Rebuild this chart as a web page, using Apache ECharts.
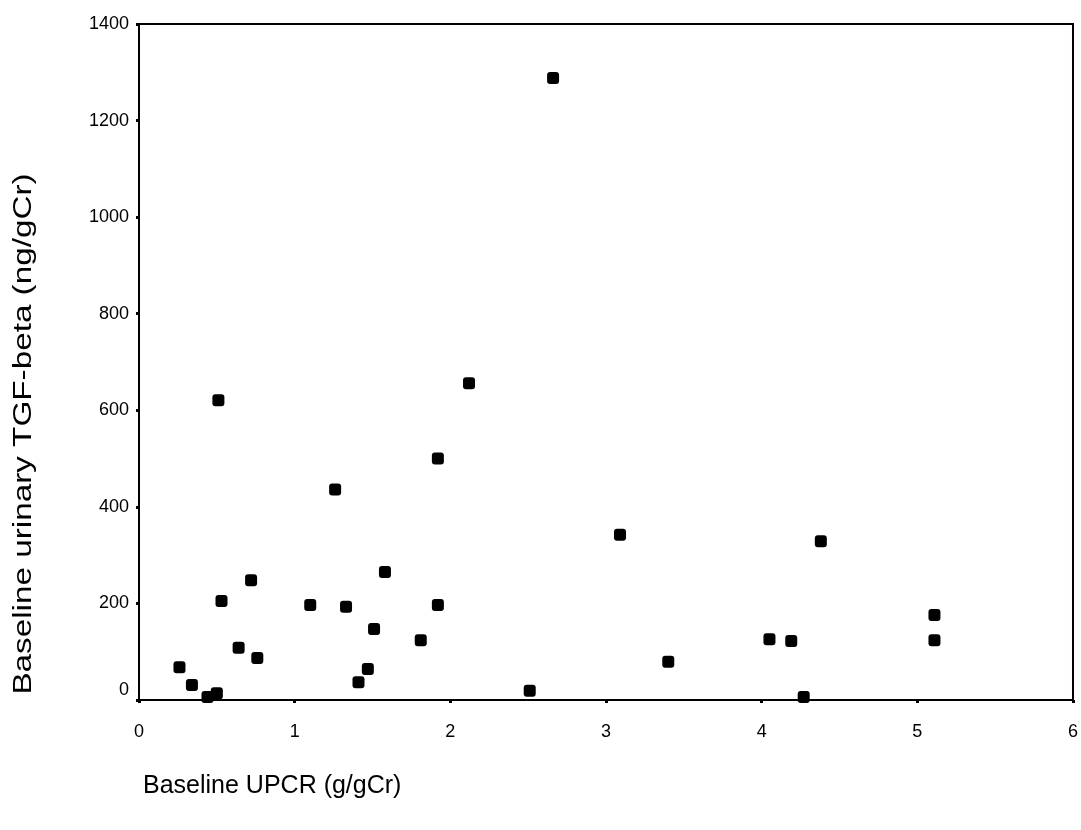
<!DOCTYPE html>
<html>
<head>
<meta charset="utf-8">
<script src="https://cdn.jsdelivr.net/npm/echarts@6/dist/echarts.min.js"></script>
<style>
html,body{margin:0;padding:0;background:#fff;}
#c{width:1081px;height:830px;}
</style>
</head>
<body>
<div id="c"></div>
<script>
const upcr = [0.26,0.34,0.44,0.50,0.51,0.53,0.64,0.72,0.76,1.10,1.26,1.33,1.41,1.47,1.51,1.58,1.81,1.92,1.92,2.12,2.51,2.66,3.09,3.40,4.05,4.19,4.27,4.38,5.11,5.11];
const tgf  = [68,31,6,14,621,205,108,248,87,197,436,193,37,64,147,265,124,197,500,656,19,1288,342,79,126,122,6,329,176,124];
const xTicks = [0,1,2,3,4,5,6];
const yTicks = [0,200,400,600,800,1000,1200,1400];
const xTitle = 'Baseline UPCR (g/gCr)';
const yTitle = 'Baseline urinary TGF-beta (ng/gCr)';

const points = upcr.map((x,i)=>[x,tgf[i]]);
const font = '"Liberation Sans", Arial, sans-serif';
const chart = echarts.init(document.getElementById('c'));
chart.setOption({
  backgroundColor:'#fff',
  animation:false,
  grid:{left:139,right:8,top:24,bottom:130,show:true,borderColor:'#000',borderWidth:2,backgroundColor:'transparent'},
  xAxis:{
    type:'value',min:xTicks[0],max:xTicks[xTicks.length-1],interval:1,
    axisLine:{show:true,onZero:false,lineStyle:{color:'#000',width:2}},
    axisTick:{show:true,length:3,lineStyle:{color:'#000',width:3}},
    splitLine:{show:false},
    axisLabel:{color:'#000',fontSize:18,fontFamily:font,margin:23}
  },
  yAxis:{
    type:'value',min:yTicks[0],max:yTicks[yTicks.length-1],interval:200,
    axisLine:{show:true,onZero:false,lineStyle:{color:'#000',width:2}},
    axisTick:{show:true,length:3,lineStyle:{color:'#000',width:3}},
    splitLine:{show:false},
    axisLabel:{color:'#000',fontSize:18,fontFamily:font,margin:10,
      formatter:v=> v===0 ? '{z|0}' : String(v),
      rich:{z:{fontSize:18,fontFamily:font,color:'#000',padding:[0,0,20,0]}}}
  },
  graphic:[
    {type:'text',left:143,top:774,style:{text:xTitle,font:'25px '+font,fill:'#000'}},
    {type:'text',x:24,y:434,rotation:Math.PI/2,scaleX:1.33,style:{text:yTitle,font:'25px '+font,fill:'#000',align:'center',verticalAlign:'middle'}}
  ],
  series:[{
    type:'scatter',
    data:points,
    symbol:'roundRect',
    symbolSize:[12,12],
    itemStyle:{color:'#000',opacity:1}
  }]
});
</script>
</body>
</html>
